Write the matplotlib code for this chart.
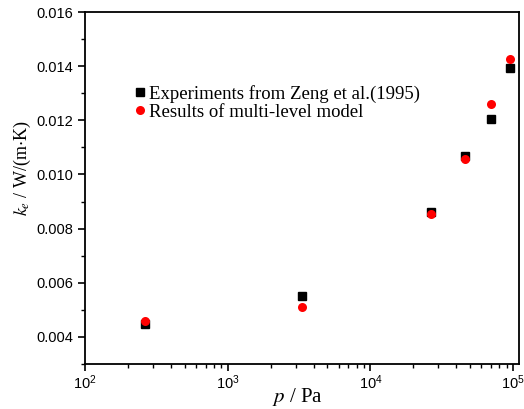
import matplotlib
matplotlib.use("Agg")
import matplotlib.pyplot as plt
from matplotlib.ticker import MultipleLocator, LogLocator, NullFormatter

pressure = [264, 3325, 26800, 46300, 70200, 95500]
k_exp = [0.00448, 0.00552, 0.00861, 0.01067, 0.01205, 0.01394]
k_model = [0.00457, 0.00511, 0.00854, 0.01058, 0.01262, 0.01428]
label_exp = "Experiments from Zeng et al.(1995)"
label_model = "Results of multi-level model"

plt.rcParams['font.family'] = ['Liberation Sans', 'DejaVu Sans']
plt.rcParams['mathtext.fontset'] = 'custom'
plt.rcParams['mathtext.rm'] = 'Liberation Sans'
plt.rcParams['mathtext.it'] = 'Liberation Sans:italic'

fig = plt.figure(figsize=(5.24, 4.09), dpi=100)
ax = fig.add_axes([85/524, 1-364/409, (519-85)/524, (364-12)/409])

ax.plot(pressure, k_exp, 's', color='black', markersize=6, label=label_exp, linestyle='none')
ax.plot(pressure, k_model, 'o', color='red', markersize=6.5, markeredgewidth=0, label=label_model, linestyle='none')

ax.set_xscale('log')
ax.set_xlim(100, 1.1e5)
ax.set_ylim(0.003, 0.016)
ax.yaxis.set_major_locator(MultipleLocator(0.002))
ax.yaxis.set_minor_locator(MultipleLocator(0.001))
ax.yaxis.set_major_formatter(matplotlib.ticker.FormatStrFormatter('%.3f'))
ax.xaxis.set_major_locator(LogLocator(base=10, numticks=10))
ax.xaxis.set_minor_locator(LogLocator(base=10, subs=range(2, 10), numticks=20))
ax.xaxis.set_minor_formatter(NullFormatter())

for s in ax.spines.values():
    s.set_linewidth(1.3)
ax.tick_params(which='major', direction='out', length=5, width=1.2, labelsize=10.5, top=False, right=False)
ax.tick_params(which='minor', direction='out', length=3, width=1.0, top=False, right=False)
ax.tick_params(axis='x', which='major', pad=2)

serif = ['Liberation Serif', 'DejaVu Serif']
ax.set_xlabel(r'$p$ / Pa', fontsize=15, family=serif)
ax.set_ylabel(r'$k_e$ / W/(m$\cdot$K)', fontsize=13, family=serif)
ax.xaxis.label.set_math_fontfamily('stix')
ax.yaxis.label.set_math_fontfamily('stix')
ax.xaxis.set_label_coords(0.49, -0.062)
ax.yaxis.set_label_coords(-0.12, 0.557)

ax.legend(loc='upper left', bbox_to_anchor=(0.097, 0.815), frameon=False,
          prop={'family': serif, 'size': 13.5}, handletextpad=0.2,
          handlelength=0.55, labelspacing=0.05, borderaxespad=0)

fig.savefig('out.png', dpi=100)
